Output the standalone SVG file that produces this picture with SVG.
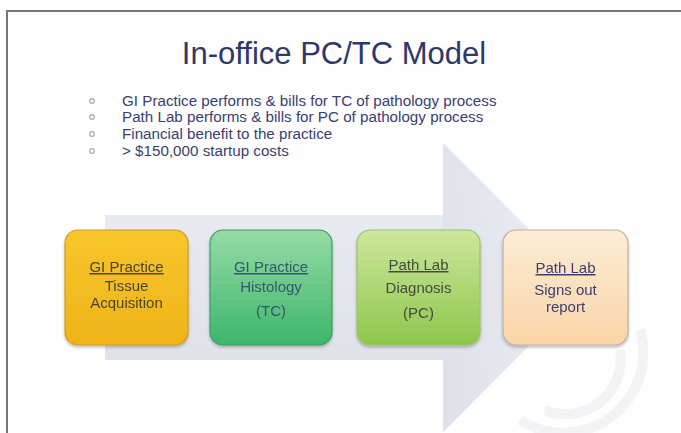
<svg xmlns="http://www.w3.org/2000/svg" width="681" height="433" viewBox="0 0 681 433">
  <defs>
    <style>
      .title { font-family: "Liberation Sans", Arial, sans-serif; font-size: 31px; fill: #303769; }
      .bul { font-family: "Liberation Sans", Arial, sans-serif; font-size: 15.2px; fill: #3b3e70; }
      .bx { font-family: "Liberation Sans", Arial, sans-serif; font-size: 15px; text-anchor: middle; }
      .u { text-decoration: underline; }
      .dot { fill: none; stroke: #a8a8b0; stroke-width: 1.2; }
    </style>
    <linearGradient id="gArrow" x1="0" y1="0" x2="0" y2="1">
      <stop offset="0" stop-color="#eceef4"/>
      <stop offset="1" stop-color="#dcdee7"/>
    </linearGradient>
    <linearGradient id="gHead" x1="0" y1="0" x2="1" y2="0">
      <stop offset="0" stop-color="#dfe1ea"/>
      <stop offset="1" stop-color="#eef0f5"/>
    </linearGradient>
    <linearGradient id="gY" x1="0" y1="0" x2="0" y2="1">
      <stop offset="0" stop-color="#f8c62c"/>
      <stop offset="1" stop-color="#efb318"/>
    </linearGradient>
    <linearGradient id="gG" x1="0" y1="0" x2="0" y2="1">
      <stop offset="0" stop-color="#96dba6"/>
      <stop offset="1" stop-color="#3db66b"/>
    </linearGradient>
    <linearGradient id="gL" x1="0" y1="0" x2="0" y2="1">
      <stop offset="0" stop-color="#cde79c"/>
      <stop offset="1" stop-color="#8dc64c"/>
    </linearGradient>
    <linearGradient id="gP" x1="0" y1="0" x2="0" y2="1">
      <stop offset="0" stop-color="#fdedd6"/>
      <stop offset="1" stop-color="#f9d4a6"/>
    </linearGradient>
    <filter id="sh" x="-10%" y="-10%" width="120%" height="125%">
      <feDropShadow dx="0" dy="2" stdDeviation="1.5" flood-color="#000" flood-opacity="0.25"/>
    </filter>
  </defs>

  <rect width="681" height="433" fill="#ffffff"/>
  <rect x="8" y="11" width="673" height="422" fill="#fefefe"/>

  <!-- frame -->
  <path d="M7 433 V11 H681" fill="none" stroke="#777777" stroke-width="2"/>

  <!-- faint watermark arcs -->
  <g fill="none" stroke="#f3f3f6" stroke-width="10">
    <path d="M640 330 A80 80 0 0 1 520 420"/>
    <path d="M620 350 A55 55 0 0 1 545 410"/>
  </g>

  <!-- title -->
  <text class="title" x="334" y="64" text-anchor="middle">In-office PC/TC Model</text>

  <!-- bullets -->
  <g id="bullets">
    <circle class="dot" cx="92" cy="101" r="2.3"/>
    <circle class="dot" cx="92" cy="117" r="2.3"/>
    <circle class="dot" cx="92" cy="134" r="2.3"/>
    <circle class="dot" cx="92" cy="151" r="2.3"/>
    <text class="bul" x="122" y="106">GI Practice performs &amp; bills for TC of pathology process</text>
    <text class="bul" x="122" y="122">Path Lab performs &amp; bills for PC of pathology process</text>
    <text class="bul" x="122" y="139">Financial benefit to the practice</text>
    <text class="bul" x="122" y="156">&gt; $150,000 startup costs</text>
  </g>

  <!-- big arrow -->
  <g id="connectors">
    <path d="M105 215 H443 V143 L587 287.5 L443 432 V360 H105 Z" fill="url(#gArrow)"/>
    <path d="M443 143 L587 287.5 L443 432 Z" fill="url(#gHead)" opacity="0.8"/>
  </g>

  <g id="box1" filter="url(#sh)">
    <rect x="65" y="230" width="123" height="115" rx="13" fill="url(#gY)" stroke="#d19d1c" stroke-width="1.2"/>
    <text class="bx" fill="#4a4535"><tspan class="u" x="126.5" y="272">GI Practice</tspan><tspan x="126.5" y="291">Tissue</tspan><tspan x="126.5" y="308">Acquisition</tspan></text>
  </g>

  <g id="box2" filter="url(#sh)">
    <rect x="210" y="230" width="122" height="115" rx="13" fill="url(#gG)" stroke="#3f9e62" stroke-width="1.2"/>
    <text class="bx" fill="#2f5a6c"><tspan class="u" x="271" y="272">GI Practice</tspan><tspan x="271" y="292">Histology</tspan><tspan x="271" y="316">(TC)</tspan></text>
  </g>

  <g id="box3" filter="url(#sh)">
    <rect x="357" y="230" width="123" height="115" rx="13" fill="url(#gL)" stroke="#9cc26c" stroke-width="1.2"/>
    <text class="bx" fill="#434c3c"><tspan class="u" x="418.5" y="270">Path Lab</tspan><tspan x="418.5" y="293">Diagnosis</tspan><tspan x="418.5" y="318">(PC)</tspan></text>
  </g>

  <g id="box4" filter="url(#sh)">
    <rect x="503" y="230" width="125" height="115" rx="13" fill="url(#gP)" stroke="#bcb1a3" stroke-width="1.2"/>
    <text class="bx" fill="#3d3f6c"><tspan class="u" x="565.5" y="273">Path Lab</tspan><tspan x="565.5" y="295">Signs out</tspan><tspan x="565.5" y="312">report</tspan></text>
  </g>
</svg>
